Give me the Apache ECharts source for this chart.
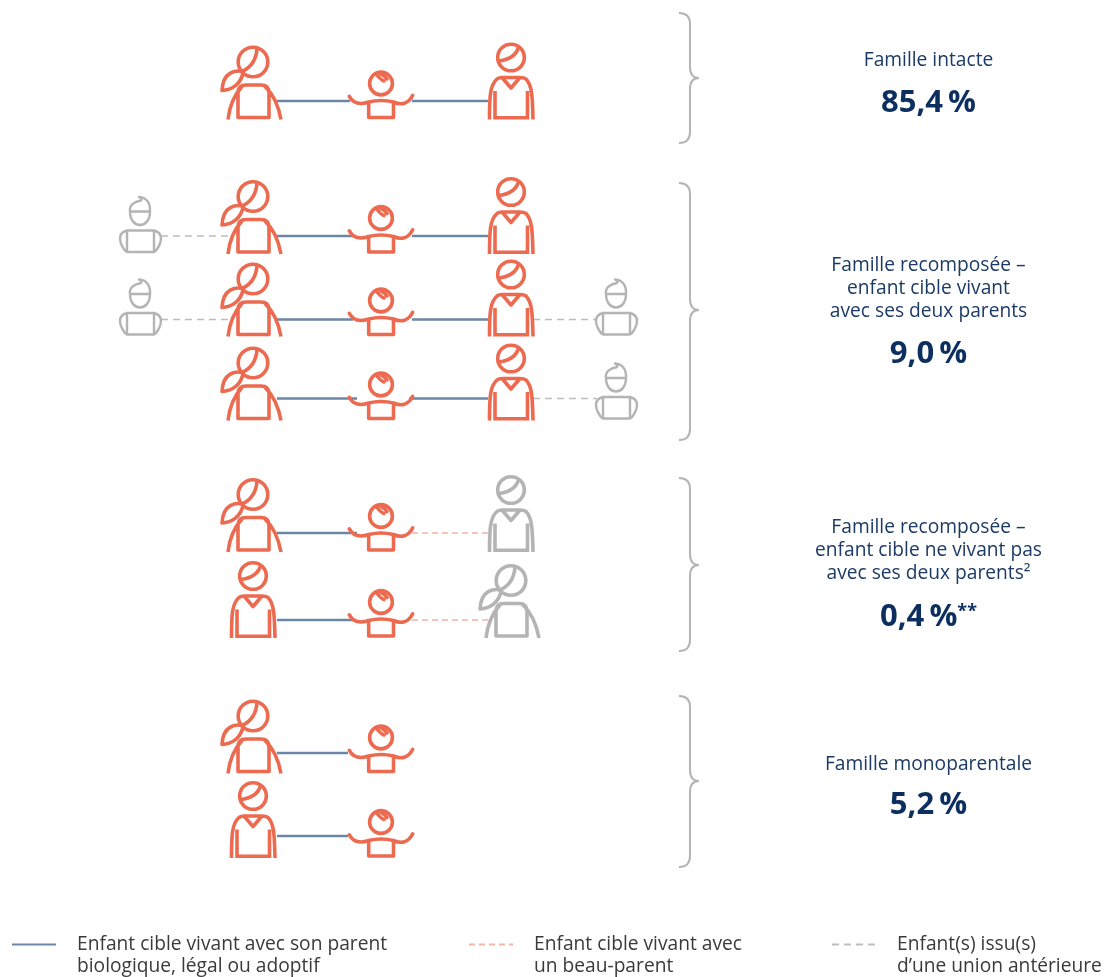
<!DOCTYPE html>
<html><head><meta charset="utf-8">
<style>html,body{margin:0;padding:0;background:#fff}#c{width:1108px;height:977px}</style>
<script src="https://cdn.jsdelivr.net/npm/echarts@6/dist/echarts.min.js"></script>
</head><body><div id="c"></div>
<script>
// ---- data ----
const categories = ['Famille intacte', 'Famille recomposée – enfant cible vivant avec ses deux parents',
  'Famille recomposée – enfant cible ne vivant pas avec ses deux parents²', 'Famille monoparentale'];
const labelLines = [
  ['Famille intacte'],
  ['Famille recomposée –', 'enfant cible vivant', 'avec ses deux parents'],
  ['Famille recomposée –', 'enfant cible ne vivant pas', 'avec ses deux parents²'],
  ['Famille monoparentale']
];
const percentages = [85.4, 9.0, 0.4, 5.2];
const percentNotes = ['', '', '**', ''];
const legendNames = ['Enfant cible vivant avec son parent\nbiologique, légal ou adoptif',
  'Enfant cible vivant avec\nun beau-parent', 'Enfant(s) issu(s)\nd’une union antérieure'];
// each household: left step-child, parent, child, other parent, right step-child
const households = [
  [null, 'mother', 'child', 'father', null],
  ['boy', 'mother', 'child', 'father', null],
  ['boy', 'mother', 'child', 'father', 'boy'],
  [null, 'mother', 'child', 'father', 'boy'],
  [null, 'mother', 'child', 'grayFather', null],
  [null, 'father', 'child', 'grayMother', null],
  [null, 'mother', 'child', null, null],
  [null, 'father', 'child', null, null]
];

// ---- layout ----
const linkY = [101, 236, 319.5, 398.5, 533, 620, 753, 836];
const iconY = [101, 235.5, 318, 402, 533.5, 619.5, 755, 839.5];
const linkEndLeft = [350, 353, 353, 357, 357, 353, 348, 348];
const linkStartRight = [412, 412, 412, 409, 412, 412, 412, 412];
const columnX = [140, 253, 380, 511, 616];
const labelTop = [61, 266, 528, 765];
const labelStep = 23;
const percentY = [103, 354, 617, 805];
const labelX = 928.5;
const braces = [[13, 78, 143], [183, 310, 440], [478, 565, 651], [696, 781, 867]];

const ORANGE = '#ec6a50', GRAY = '#b4b4b4', BLUE = '#6b87a7', PINK = '#f6b3a7', LGRAY = '#bdbdbd';
const NAVY = '#1b3a66', DEEP = '#0c2f5f', INK = '#3a3a3a';

const ICONS = {
  mother: { head: [0, -39, 14.8], d:
    'M-11,-29.5 Q3,-36 4,-52.7 ' +
    'M-9.7,-29.4 C-17,-31 -30,-30 -31,-10.5 C-22,-11 -12,-16 -9.7,-29.4 Z ' +
    'M-15,16.5 L-15,-8 Q-15,-16 -7,-16 L8,-16 Q16,-16 16,-8 L16,16.5 Z ' +
    'M-11,-14.5 C-18,-7 -23.5,5 -25,18.5 M12,-14.5 C20,-7 25.5,5 28,18.5' },
  father: { head: [0, -43.5, 13.3], d:
    'M-13,-40 Q4.5,-41.5 8,-55 ' +
    'M-21.5,18.5 C-21.5,-5 -21,-16 -14,-22 Q-12,-23.5 -9,-23.5 L9,-23.5 Q13,-23.5 15,-22 C21,-16 21.5,-5 22,18.5 ' +
    'M-16,18.5 L-16,-10 M16.5,18.5 L16.5,-10 M-16,16.7 L16.5,16.7 ' +
    'M-9,-23.5 L0,-13 L9,-23.5' },
  child: { cap: 'round', head: [1, -17.5, 11.4], d:
    'M-3,-26 Q1,-21 4,-20 M1,-27 Q4,-26 7,-22 ' +
    'M-11.3,2 L-11.3,16.5 L13.5,16.5 L13.5,2 ' +
    'M-30.7,-4.7 C-27,2 -20,4 -11.3,1 Q1,-2 13.5,1 C22,5 29,2 32.7,-5.7' },
  boy: { w: 2.4, d:
    'M-10,-24 C-11,-30 -6,-34 1,-35 C2,-36.5 1,-38 -1,-38.5 C6,-38 10.5,-33 10,-24 Z ' +
    'M-10,-24 C-10,-15 -5,-10.5 0,-10.5 C5,-10.5 10,-15 10,-24 ' +
    'M-13,-5 L14,-5 L14,16.5 L-13,16.5 Z ' +
    'M-13,-5 C-17,-4 -20,-1 -20,3 C-20,8 -16,15 -13,16.5 ' +
    'M14,-5 C18,-4 21,-1 21,3 C21,8 17,15 14,16.5' }
};
const KIND = {
  mother: { icon: 'mother', color: ORANGE }, father: { icon: 'father', color: ORANGE },
  child: { icon: 'child', color: ORANGE }, boy: { icon: 'boy', color: GRAY },
  grayMother: { icon: 'mother', color: GRAY }, grayFather: { icon: 'father', color: GRAY }
};

// ---- derived marks ----
const iconData = [];
households.forEach((h, r) => h.forEach((k, c) => { if (k) iconData.push([columnX[c], iconY[r], k]); }));

const solid = [], pinkDash = [], grayDash = [];
const seg = (arr, a, b, y) => arr.push([a, y], [b, y], [null, null]);
households.forEach((h, r) => {
  const y = linkY[r];
  seg(solid, columnX[1] + 24, linkEndLeft[r], y);
  if (h[3]) seg(h[3].startsWith('gray') ? pinkDash : solid, linkStartRight[r], columnX[3] - 23, y);
  if (h[0]) seg(grayDash, columnX[0] + 21, columnX[1] - 23, y);
  if (h[4]) seg(grayDash, columnX[3] + 22, columnX[4] - 19, y);
});

const textData = [];
labelLines.forEach((lines, i) => lines.forEach((t, j) =>
  textData.push([labelX, labelTop[i] + j * labelStep, t, 'label'])));
percentages.forEach((v, i) => {
  const txt = v.toFixed(1).replace('.', ',') + '\u2009%';
  textData.push([labelX, percentY[i], '{p|' + txt + '}' + (percentNotes[i] ? '{s|' + percentNotes[i] + '}' : ''), 'pct']);
});

const axisOff = { show: false, axisLine: { show: false }, splitLine: { show: false } };
const lineSeries = (name, data, color, type, width) => ({
  type: 'line', name, data, showSymbol: false, symbol: 'none', connectNulls: false, silent: true,
  lineStyle: { color, type, width }, itemStyle: { color }, z: 1, animation: false, clip: false
});
const legendBase = (name, left) => ({
  data: [name], left, top: 911.5, orient: 'vertical', padding: 0, itemWidth: 44, itemHeight: 14,
  selectedMode: false, itemStyle: { color: 'transparent', borderWidth: 0 },
  formatter: n => '\n' + n,
  textStyle: { fontFamily: 'Open Sans', fontSize: 19.2, color: INK, lineHeight: 22, padding: [0, 0, 0, 16] }
});

const chart = echarts.init(document.getElementById('c'), null, { renderer: 'canvas' });
chart.setOption({
  animation: false, backgroundColor: '#fff',
  grid: { left: 0, right: 0, top: 0, bottom: 0 },
  xAxis: { type: 'value', min: 0, max: 1108, ...axisOff },
  yAxis: { type: 'value', min: 0, max: 977, inverse: true, ...axisOff },
  legend: [legendBase(legendNames[0], 11), legendBase(legendNames[1], 468), legendBase(legendNames[2], 831)],
  series: [
    lineSeries(legendNames[0], solid, BLUE, 'solid', 2.4),
    lineSeries(legendNames[1], pinkDash, PINK, [6, 4], 1.5),
    lineSeries(legendNames[2], grayDash, LGRAY, [7, 5], 1.5),
    { type: 'custom', name: 'people', z: 3, silent: true, data: iconData,
      renderItem(p, api) {
        const pt = api.coord([api.value(0), api.value(1)]);
        const k = KIND[iconData[p.dataIndex][2]], ic = ICONS[k.icon];
        const style = { fill: 'none', stroke: k.color, lineWidth: ic.w || 3.6, lineJoin: 'round', lineCap: ic.cap || 'butt' };
        const children = [{ type: 'path', shape: { pathData: ic.d }, style }];
        if (ic.head) children.push({ type: 'circle', shape: { cx: ic.head[0], cy: ic.head[1], r: ic.head[2] }, style });
        return { type: 'group', x: pt[0], y: pt[1], children };
      } },
    { type: 'custom', name: 'braces', z: 2, silent: true, data: braces,
      renderItem(p, api) {
        const [t, m, b] = [0, 1, 2].map(i => api.coord([0, api.value(i)])[1]);
        const a = api.coord([679, 0])[0], s = api.coord([690, 0])[0], e = api.coord([699, 0])[0];
        return { type: 'path',
          shape: { pathData: `M${a},${t} Q${s},${t} ${s},${t + 11} L${s},${m - 11} Q${s},${m} ${e},${m} Q${s},${m} ${s},${m + 11} L${s},${b - 11} Q${s},${b} ${a},${b}` },
          style: { fill: 'none', stroke: GRAY, lineWidth: 2 } };
      } },
    { type: 'custom', name: 'labels', z: 4, silent: true, data: textData.map(d => [d[0], d[1]]),
      renderItem(p, api) {
        const pt = api.coord([api.value(0), api.value(1)]);
        const d = textData[p.dataIndex];
        const style = { text: d[2], x: pt[0], y: pt[1], align: 'center', verticalAlign: 'middle',
          fontFamily: 'Open Sans', fontSize: 19.2, fill: NAVY };
        if (d[3] === 'pct') {
          style.rich = {
            p: { fontFamily: 'Open Sans', fontSize: 31, fontWeight: 700, fill: DEEP, color: DEEP, lineHeight: 38 },
            s: { fontFamily: 'Open Sans', fontSize: 18, fontWeight: 700, fill: DEEP, color: DEEP, verticalAlign: 'middle', lineHeight: 28, padding: [0, 0, 10, 0] }
          };
        }
        return { type: 'text', style };
      } }
  ]
});
</script></body></html>
